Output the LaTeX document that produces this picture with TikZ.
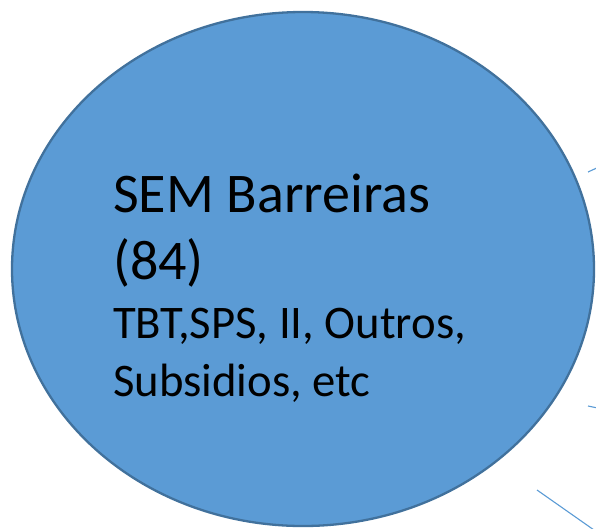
\documentclass[tikz,border=0pt]{standalone}
\usepackage{fontspec}
\setmainfont{Carlito}
\definecolor{fillblue}{HTML}{5B9BD5}
\definecolor{edgeblue}{HTML}{41719C}
\begin{document}
\begin{tikzpicture}[x=1pt,y=-1pt,
  big/.style={anchor=base west,inner sep=0pt,font=\fontsize{56}{67}\selectfont},
  small/.style={anchor=base west,inner sep=0pt,font=\fontsize{46.7}{56}\selectfont},
  thinline/.style={draw=fillblue,line width=1.1pt}]
\useasboundingbox (0,0) rectangle (596,528);
\clip (0,0) rectangle (596,528);
\draw[fill=fillblue,draw=edgeblue,line width=2.3pt] (303,269) ellipse [x radius=291,y radius=257];
\node[big] (l1) at (113,212) {SEM Barreiras};
\node[big] (l2) at (113,279) {(84)};
\node[small] (l3) at (113,338) {TBT,SPS, II, Outros,};
\node[small] (l4) at (113,396) {Subsidios, etc};
\coordinate (a1) at (588,172); \coordinate (a2) at (600,166.5);
\coordinate (b1) at (588,406); \coordinate (b2) at (600,408.5);
\coordinate (c1) at (537,490); \coordinate (c2) at (594,530);
\draw[thinline] (a1) -- (a2);
\draw[thinline] (b1) -- (b2);
\draw[thinline] (c1) -- (c2);
\end{tikzpicture}
\end{document}
